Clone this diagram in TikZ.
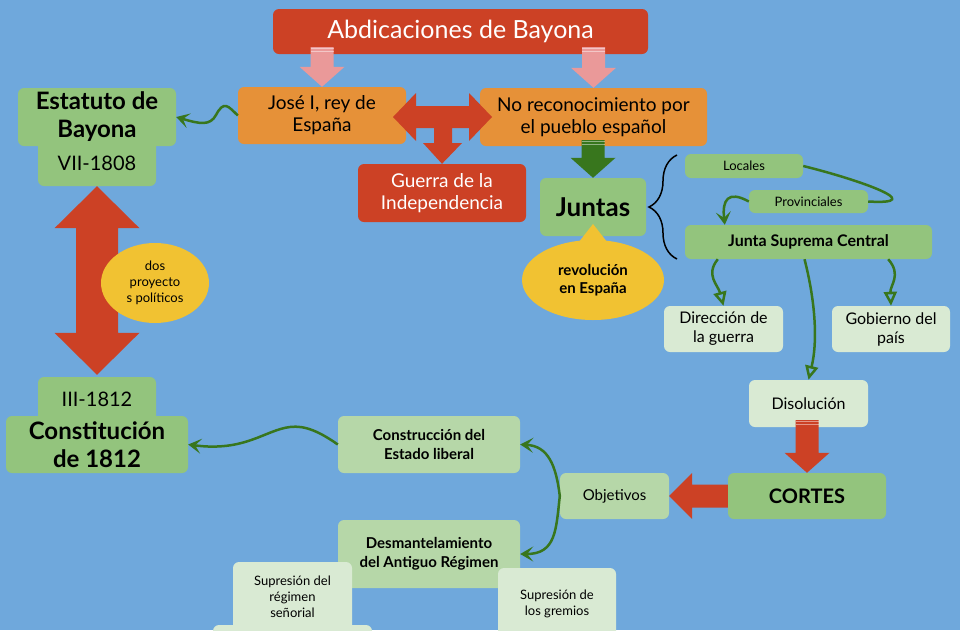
\documentclass[tikz,border=0pt]{standalone}
\usepackage{fontspec}
\setmainfont{Lato}
\usetikzlibrary{positioning,calc,arrows.meta,decorations.pathreplacing,shapes.geometric}
\definecolor{bgBlue}{RGB}{111,168,220}
\definecolor{titleRed}{RGB}{204,65,37}
\definecolor{boxOrange}{RGB}{230,145,56}
\definecolor{boxGreen}{RGB}{147,196,125}
\definecolor{boxMid}{RGB}{182,215,168}
\definecolor{boxPale}{RGB}{217,234,211}
\definecolor{bubbleYellow}{RGB}{241,194,50}
\definecolor{arrowPink}{RGB}{234,153,153}
\definecolor{linkGreen}{RGB}{56,118,29}
\newcommand{\textSize}[2]{\fontsize{#1}{#2}\selectfont}
\newcommand{\fatArrowDown}[3]{%%
  %% A thick arrow in colour #1 from #2 down to the tip #3.
  \fill[#1] ($(#2)+(-11.5,0)$) -- ($(#3)+(-11.5,-20)$) -- ($(#3)+(-22.5,-20)$) -- (#3)
    -- ($(#3)+(22.5,-20)$) -- ($(#3)+(11.5,-20)$) -- ($(#2)+(11.5,0)$) -- cycle;
  %% The stripes at the top of the shaft.
  \draw[white,opacity=0.45,line width=0.8pt] ($(#2)+(-11.5,1.5)$) -- ($(#2)+(11.5,1.5)$)
    ($(#2)+(-11.5,4)$) -- ($(#2)+(11.5,4)$);
}
\newcommand{\fatArrowLeft}[3]{%%
  %% A thick arrow in colour #1 from #2 left to the tip #3.
  \fill[#1] ($(#2)+(0,-11.5)$) -- ($(#3)+(23,-11.5)$) -- ($(#3)+(23,-23)$) -- (#3)
    -- ($(#3)+(23,23)$) -- ($(#3)+(23,11.5)$) -- ($(#2)+(0,11.5)$) -- cycle;
}

\begin{document}
\begin{tikzpicture}[%%
  x=1pt,y=-1pt,%%
  boxStyle/.style={rectangle,rounded corners=6pt,inner sep=0pt,align=center,text=black},%%
  redBox/.style={boxStyle,fill=titleRed,text=white},%%
  orangeBox/.style={boxStyle,fill=boxOrange},%%
  greenBox/.style={boxStyle,fill=boxGreen},%%
  midBox/.style={boxStyle,fill=boxMid},%%
  paleBox/.style={boxStyle,fill=boxPale},%%
  bubbleStyle/.style={ellipse,inner sep=0pt,fill=bubbleYellow,align=center},%%
  linkStyle/.style={draw=linkGreen,line width=2.5pt},%%
  barbTip/.style={-{Stealth[length=13pt,width=15pt,inset=6pt]}},%%
  openTip/.style={-{Triangle[open,length=14pt,width=13pt]}},%%
]
%% The background.
\useasboundingbox (0,0) rectangle (960,630);
\fill[bgBlue] (0,0) rectangle (960,630);
%%
%% The top row.
\node[redBox,minimum width=375,minimum height=45,font=\textSize{25}{29}] (title) at (460.5,31.5) {Abdicaciones de Bayona};
\node[orangeBox,minimum width=168,minimum height=57,font=\textSize{19}{22}] (jose) at (322,115.5) {José I, rey de\\España};
\node[orangeBox,minimum width=227,minimum height=58,font=\textSize{19}{22}] (noReco) at (593.5,117) {No reconocimiento por\\el pueblo español};
\node[redBox,minimum width=168,minimum height=58,font=\textSize{19}{22}] (guerra) at (442,193) {Guerra de la\\Independencia};
%%
%% The juntas.
\node[greenBox,minimum width=106,minimum height=58,font=\bfseries\textSize{26}{30}] (juntas) at (593,207) {Juntas};
\node[bubbleStyle,minimum width=142,minimum height=80,font=\bfseries\textSize{15}{18}] (revolucion) at (593,280) {revolución\\en España};
\fill[bubbleYellow] (575,247) -- (593,224) -- (611,247) -- cycle;
\draw[line width=1.5pt,decorate,decoration={brace,amplitude=28pt,aspect=0.5}] (677,259) -- (677,155);
\node[greenBox,minimum width=118,minimum height=24,font=\textSize{13}{15}] (locales) at (744,166) {Locales};
\node[greenBox,minimum width=119,minimum height=23,font=\textSize{13}{15}] (provinciales) at (808.5,201.5) {Provinciales};
\node[greenBox,minimum width=247,minimum height=34,font=\bfseries\textSize{16}{19}] (suprema) at (808.5,242) {Junta Suprema Central};
\node[paleBox,minimum width=119,minimum height=46,font=\textSize{16}{19}] (direccion) at (723.5,329) {Dirección de\\la guerra};
\node[paleBox,minimum width=118,minimum height=46,font=\textSize{16}{19}] (gobierno) at (891,329) {Gobierno del\\país};
\node[paleBox,minimum width=119,minimum height=47,font=\textSize{16}{19}] (disolucion) at (808.5,403.5) {Disolución};
%%
%% The Cortes.
\node[greenBox,minimum width=158,minimum height=46,font=\bfseries\textSize{20}{23}] (cortes) at (807,496) {CORTES};
\node[midBox,minimum width=109,minimum height=46,font=\textSize{15}{18}] (objetivos) at (614.5,496) {Objetivos};
\node[midBox,minimum width=182,minimum height=57,font=\bfseries\textSize{15}{19}] (construccion) at (429,444.5) {Construcción del\\Estado liberal};
\node[midBox,minimum width=182,minimum height=68,font=\bfseries\textSize{15}{19}] (desmantel) at (429,554) {Desmantelamiento\\del Antiguo Régimen};
\node[paleBox,minimum width=119,minimum height=70,font=\textSize{13}{16}] (senorial) at (292.5,597) {Supresión del\\régimen\\señorial};
\node[paleBox,minimum width=159,minimum height=50] (nextBox) at (292.5,650) {};
\node[paleBox,minimum width=118,minimum height=72,font=\textSize{13}{16}] (gremios) at (557,604) {Supresión de\\los gremios};
%%
%% The two constitutions.
\node[greenBox,minimum width=118,minimum height=46,font=\textSize{20}{23}] (estatutoDate) at (97,163) {VII-1808};
\node[greenBox,minimum width=158,minimum height=58,font=\bfseries\textSize{24}{28}] (estatuto) at (97,117) {Estatuto de\\Bayona};
\node[greenBox,minimum width=118,minimum height=45,font=\textSize{20}{23}] (constDate) at (97,399.5) {III-1812};
\node[greenBox,minimum width=182,minimum height=57,font=\bfseries\textSize{24}{28}] (constitucion) at (97,444.5) {Constitución\\de 1812};
%%
%% The thick arrows.
\fatArrowDown{arrowPink}{$(title.south -| jose.north)+(0,-7)$}{jose.north}
\fatArrowDown{arrowPink}{$(title.south -| noReco.north)+(0,-7)$}{noReco.north}
\fatArrowDown{linkGreen}{$(noReco.south -| juntas.north)+(0,-6)$}{juntas.north}
\fatArrowDown{titleRed}{$(disolucion.south -| cortes.north)+(0,-7)$}{cortes.north}
\fatArrowLeft{titleRed}{cortes.west}{objetivos.east}
\fill[titleRed] (393,117) -- (416,93) -- (416,106) -- (469,106) -- (469,93) -- (492,117)
  -- (469,141) -- (469,128) -- (452,128) -- (452,143) -- (462,143) -- (guerra.north)
  -- (423,143) -- (434,143) -- (434,128) -- (416,128) -- (416,141) -- cycle;
\coordinate (topTip) at (estatutoDate.south);
\coordinate (lowTip) at ($(constDate.north)+(0,-2)$);
\fill[titleRed] (topTip) -- ($(topTip)+(42.5,42)$) -- ($(topTip)+(21,42)$) -- ($(lowTip)+(21,-42)$)
  -- ($(lowTip)+(42.5,-42)$) -- (lowTip) -- ($(lowTip)+(-42.5,-42)$) -- ($(lowTip)+(-21,-42)$)
  -- ($(topTip)+(-21,42)$) -- ($(topTip)+(-42.5,42)$) -- cycle;
\node[bubbleStyle,minimum width=108,minimum height=80,font=\textSize{13}{16}] (dosProyectos) at (155,283) {dos\\proyecto\\s políticos};
%%
%% The green links.
\draw[linkStyle,barbTip] (jose.west) .. controls (228,106) and (224,100) .. (216,115) .. controls (210,126) and (200,124) .. (estatuto.east);
\draw[linkStyle,barbTip] (construccion.west) .. controls (320,432) and (305,425) .. (290,427) .. controls (265,430) and (245,452) .. (constitucion.east);
\draw[linkStyle,barbTip] (objetivos.west) .. controls (556,465) and (548,446) .. (construccion.east);
\draw[linkStyle,barbTip] (objetivos.west) .. controls (556,530) and (556,554) .. (desmantel.east);
\draw[linkStyle] (locales.east) .. controls (860,180) and (930,205) .. (provinciales.east);
\coordinate (supremaIn) at ($(suprema.north west)+(40,0)$);
\draw[linkStyle,barbTip] (provinciales.west) .. controls (728,190) and (722,200) .. (supremaIn);
\draw[linkStyle,openTip] ($(suprema.south west)+(33,0)$) .. controls (705,275) and (718,285) .. (direccion.north);
\draw[linkStyle,openTip] ($(suprema.south east)+(-44,0)$) .. controls (902,275) and (890,285) .. (gobierno.north);
\draw[linkStyle,openTip] ($(suprema.south)+(-4,0)$) .. controls (815,300) and (818,340) .. (disolucion.north);
\end{tikzpicture}
\end{document}
